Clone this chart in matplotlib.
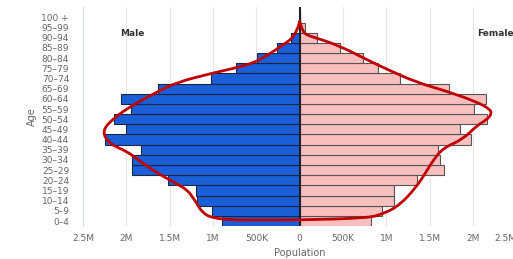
#!/usr/bin/env python3

import numpy as np
from matplotlib import pyplot as plt
from matplotlib.patches import PathPatch
from matplotlib.path import Path
from matplotlib.ticker import FuncFormatter

out_filename = "out.png"

age_groups = [
    "0–4", "5–9", "10–14", "15–19", "20–24", "25–29", "30–34", "35–39",
    "40–44", "45–49", "50–54", "55–59", "60–64", "65–69", "70–74",
    "75–79", "80–84", "85–89", "90–94", "95–99", "100 +",
]

# population per age group, in millions
male = [
    0.896, 1.012, 1.185, 1.192, 1.519, 1.934, 1.934, 1.835, 2.250, 2.007,
    2.146, 1.950, 2.065, 1.634, 1.027, 0.730, 0.493, 0.262, 0.096, 0.012,
    0.002,
]
female = [
    0.827, 0.954, 1.088, 1.088, 1.358, 1.661, 1.623, 1.596, 1.973, 1.854,
    2.160, 2.010, 2.146, 1.720, 1.153, 0.903, 0.730, 0.470, 0.200, 0.058,
    0.008,
]

# hand-drawn red outline (population in M, age-row position)
curve_pop = [
    0.0, -0.023, -0.081, -0.196, -0.381, -0.577, -1.027, -1.419, -1.649,
    -1.926, -2.157, -2.284, -2.19, -1.995, -1.845, -1.649, -1.419, -1.292,
    -1.234, -1.188, -1.119, -1.003, -0.773, -0.461, 0.0, 0.773, 0.957,
    1.153, 1.349, 1.465, 1.534, 1.649, 1.880, 2.042, 2.157, 2.215, 2.191,
    2.042, 1.730, 1.349, 1.038, 0.773, 0.461, 0.196, 0.081, 0.035, 0.0,
]
curve_age = [
    19.6, 18.94, 17.97, 17.29, 16.23, 15.36, 14.49, 13.62, 12.66, 11.40,
    10.05, 8.79, 7.54, 6.86, 5.89, 4.73, 3.67, 3.0, 2.32, 1.74, 0.77, 0.29,
    0.10, 0.10, 0.10, 0.29, 0.68, 1.55, 3.38, 4.93, 5.89, 7.15, 8.02, 9.37,
    9.95, 10.53, 11.01, 11.69, 12.66, 13.62, 14.78, 15.85, 17.20, 17.97,
    18.26, 18.65, 19.6,
]

x_ticks = [-2.5, -2.0, -1.5, -1.0, -0.5, 0.0, 0.5, 1.0, 1.5, 2.0, 2.5]


def fmt_pop(v, _pos):
    v = abs(v)
    if v == 0:
        return "0"
    if v < 1:
        return f"{v * 1000:.0f}K"
    return f"{v:g}M"


def smooth_path(xs, ys):
    # quadratic bezier through midpoints, traced points act as controls
    pts = np.column_stack([xs, ys])
    mids = (pts[:-1] + pts[1:]) / 2
    verts = [pts[0], mids[0]]
    codes = [Path.MOVETO, Path.LINETO]
    for i in range(1, len(pts) - 1):
        verts += [pts[i], mids[i]]
        codes += [Path.CURVE3, Path.CURVE3]
    verts.append(pts[-1])
    codes.append(Path.LINETO)
    return Path(verts, codes)


def main():
    plt.rcParams["font.family"] = ["DejaVu Sans"]
    fig = plt.figure(figsize=(5.13, 2.59), dpi=100)
    ax = fig.add_axes([0.1618, 0.127, 0.845, 0.845])

    ys = np.arange(len(age_groups))
    ax.barh(ys, -np.array(male), height=1.0, color="#1a5fd8",
            edgecolor="#1c2540", linewidth=0.8, zorder=2)
    ax.barh(ys, female, height=1.0, color="#f9bfbf",
            edgecolor="#555555", linewidth=0.8, zorder=2)

    ax.axvline(0, color="#222222", linewidth=1.5, zorder=3)
    ax.add_patch(PathPatch(smooth_path(curve_pop, curve_age), fill=False,
                           edgecolor="#c00000", linewidth=2.0,
                           capstyle="round", zorder=4))

    ax.set_xlim(-2.5, 2.5)
    ax.set_ylim(-0.5, 21.0)
    ax.set_xticks(x_ticks)
    ax.xaxis.set_major_formatter(FuncFormatter(fmt_pop))
    ax.set_yticks(ys)
    ax.set_yticklabels(age_groups)
    ax.tick_params(axis="both", length=0, labelsize=6.5, colors="#666666")
    ax.tick_params(axis="y", pad=10)
    ax.tick_params(axis="x", pad=6)
    # keep the last label pulled in from the edge, as the source chart does
    ax.get_xticklabels()[-1].set_horizontalalignment("right")

    ax.grid(axis="x", color="#e6e6e6", linewidth=0.8, zorder=0)
    ax.set_axisbelow(True)
    for side in ["top", "right", "bottom"]:
        ax.spines[side].set_visible(False)
    ax.spines["left"].set_color("#d6e0ec")
    ax.spines["left"].set_linewidth(0.8)

    ax.set_xlabel("Population", fontsize=7, color="#666666", labelpad=3)
    ax.set_ylabel("Age", fontsize=7, color="#666666", labelpad=3)

    ax.text(-1.93, 18.4, "Male", fontsize=6.5, fontweight="bold",
            color="#333333", ha="center", va="center")
    ax.text(2.26, 18.4, "Female", fontsize=6.5, fontweight="bold",
            color="#333333", ha="center", va="center")

    fig.savefig(out_filename, dpi=100)
    plt.close()


if __name__ == "__main__":
    main()
